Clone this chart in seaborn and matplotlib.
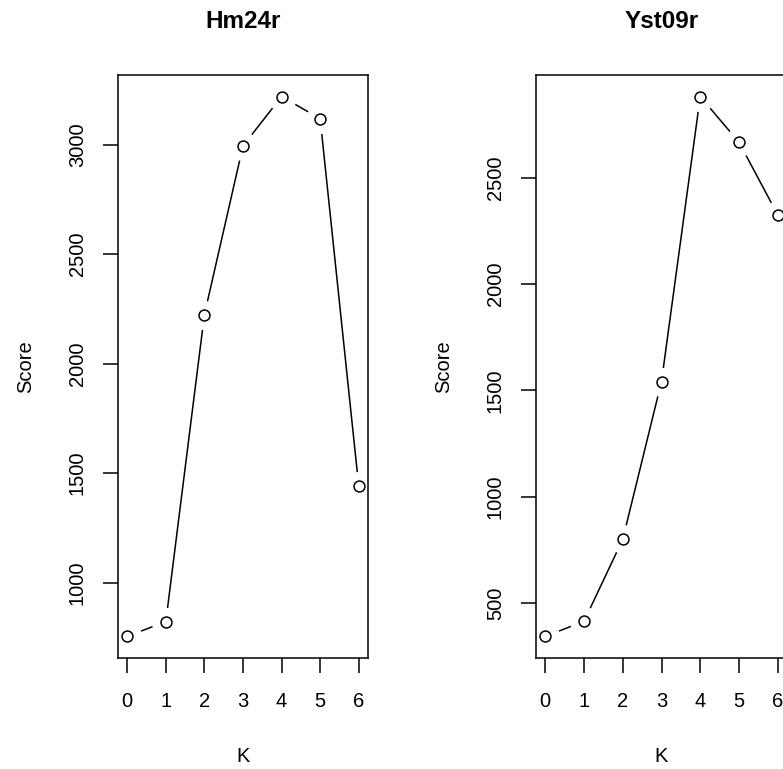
import numpy as np
import pandas as pd
import matplotlib
matplotlib.use("Agg")
import matplotlib.pyplot as plt
import seaborn as sns

# ---- data ----
k_values = [0, 1, 2, 3, 4, 5, 6]
hm24r_scores = [754, 822, 2224, 2995, 3220, 3119, 1440]
yst09r_scores = [345, 416, 801, 1542, 2880, 2666, 2325]
titles = ["Hm24r", "Yst09r"]
hm24r_yticks = [1000, 1500, 2000, 2500, 3000]
yst09r_yticks = [500, 1000, 1500, 2000, 2500]

sns.set_style("white")
plt.rcParams["font.family"] = ["Liberation Sans", "DejaVu Sans"]
plt.rcParams["text.color"] = "black"
plt.rcParams["axes.labelcolor"] = "black"

W, H = 783, 769
fig = plt.figure(figsize=(W / 100, H / 100), dpi=100)

def px_axes(x0, x1, ytop, ybot):
    return fig.add_axes([x0 / W, (H - ybot) / H, (x1 - x0) / W, (ybot - ytop) / H])

ax1 = px_axes(118, 368, 75, 658)
ax2 = px_axes(536, 787, 75, 658)

panels = [(ax1, hm24r_scores, hm24r_yticks, titles[0]),
          (ax2, yst09r_scores, yst09r_yticks, titles[1])]

for ax, scores, yticks, title in panels:
    df = pd.DataFrame({"K": k_values, "Score": scores})
    # line with white marker halos (emulates R's type="b" gaps)
    sns.lineplot(data=df, x="K", y="Score", ax=ax, color="black", linewidth=1.1,
                 marker="o", markersize=21, markerfacecolor="white",
                 markeredgecolor="white", markeredgewidth=0, zorder=2)
    sns.scatterplot(data=df, x="K", y="Score", ax=ax, s=62, marker="o",
                    facecolor="white", edgecolor="black", linewidth=1.1,
                    zorder=4, clip_on=False)
    rng = max(scores) - min(scores)
    ax.set_ylim(min(scores) - 0.04 * rng, max(scores) + 0.04 * rng)
    ax.set_xlim(-0.24, 6.24)
    ax.set_xticks(k_values)
    ax.set_xticklabels([str(v) for v in k_values])
    ax.set_yticks(yticks)
    ax.set_yticklabels([str(v) for v in yticks], rotation=90, va="center")
    for sp in ax.spines.values():
        sp.set_visible(True)
        sp.set_color("black")
        sp.set_linewidth(1.1)
        sp.set_zorder(5)
    ax.tick_params(axis="both", which="major", direction="out", length=10.5, width=1.1,
                   color="black", labelsize=14.5, labelcolor="black",
                   bottom=True, left=True, top=False, right=False)
    ax.tick_params(axis="x", pad=14)
    ax.tick_params(axis="y", pad=12)
    ax.set_xlabel("K", fontsize=14.5, color="black")
    ax.set_ylabel("Score", fontsize=14.5, color="black")
    ax.xaxis.set_label_coords(0.5, -0.152)
    ax.yaxis.set_label_coords(-0.33, 0.5)
    ax.set_title(title, fontsize=17.5, fontweight="bold", pad=34, color="black")
    ax.grid(False)

fig.savefig("out.png", dpi=100)
